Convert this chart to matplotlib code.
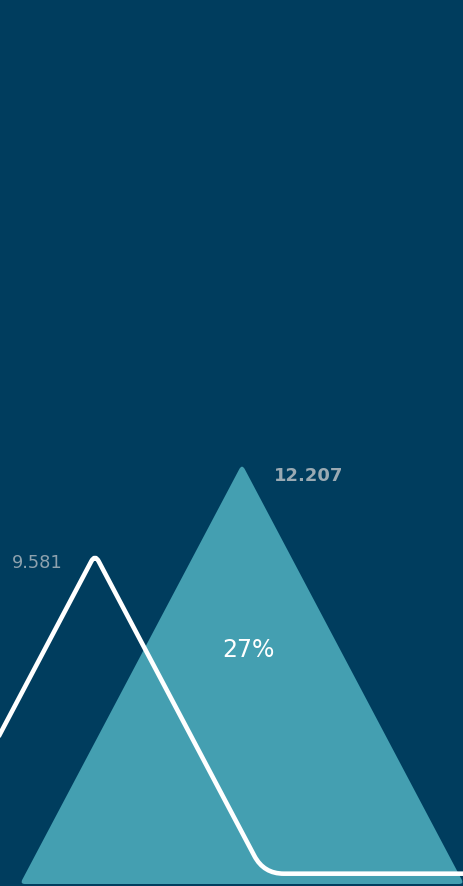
import numpy as np
import matplotlib.pyplot as plt
from matplotlib.path import Path
from matplotlib.patches import PathPatch
from matplotlib.transforms import IdentityTransform

# Data
periods = ['previous', 'current']
positions = [0, 1]
values = [9.581, 12.207]
value_labels = ['9.581', '12.207']
change_label = '27%'

# Style
BG = '#003d5e'
TEAL = '#449fb1'
LABEL_GREY = '#8ea2ae'
SLOPE = 0.1237        # half-width of a triangle (x units) per value unit
LINE_BASE = 0.3       # the outline sits a little above the baseline


def rounded_path(pts, radii, closed=False):
    """Polyline/polygon in display coords with quadratic-rounded corners."""
    pts = np.asarray(pts, float)
    n = len(pts)
    verts, codes = [], []
    for i, p in enumerate(pts):
        r = radii[i]
        endpoint = not closed and (i == 0 or i == n - 1)
        if r == 0 or endpoint:
            verts.append(p)
            codes.append(Path.LINETO if codes else Path.MOVETO)
            continue
        prev, nxt = pts[i - 1], pts[(i + 1) % n]
        a = p + (prev - p) / np.linalg.norm(prev - p) * r
        b = p + (nxt - p) / np.linalg.norm(nxt - p) * r
        verts += [a, p, b]
        codes += [Path.LINETO if codes else Path.MOVETO, Path.CURVE3, Path.CURVE3]
    if closed:
        verts.append(verts[0])
        codes.append(Path.CLOSEPOLY)
    return Path(verts, codes)


fig = plt.figure(figsize=(4.63, 8.86), dpi=100)
fig.patch.set_facecolor(BG)
ax = fig.add_axes([0, 0, 1, 1])
ax.set_xlim(-0.646, 2.503)
ax.set_ylim(-0.058, 25.69)
ax.axis('off')

to_px = ax.transData.transform

# current period: filled teal triangle
x1, v1 = positions[1], values[1]
tri = to_px([(x1 - SLOPE * v1, 0), (x1, v1), (x1 + SLOPE * v1, 0)])
ax.add_patch(PathPatch(rounded_path(tri, [5, 6, 5], closed=True),
                       facecolor=TEAL, edgecolor='none',
                       transform=IdentityTransform()))

# previous period: white outline, running on along the baseline
x0, v0 = positions[0], values[0]
h = v0 - LINE_BASE
outline = to_px([(x0 - SLOPE * h, LINE_BASE), (x0, v0),
                 (x0 + SLOPE * h, LINE_BASE), (ax.get_xlim()[1] + 0.1, LINE_BASE)])
ax.add_patch(PathPatch(rounded_path(outline, [0, 8, 20, 0]),
                       facecolor='none', edgecolor='white', linewidth=3.3,
                       capstyle='round', joinstyle='round',
                       transform=IdentityTransform()))

# value labels
ax.annotate(value_labels[0], xy=(x0, v0), xytext=(-23, -6),
            textcoords='offset points', ha='right', va='center',
            fontsize=12.8, color=LABEL_GREY)
ax.annotate(value_labels[1], xy=(x1, v1), xytext=(23, -9),
            textcoords='offset points', ha='left', va='center',
            fontsize=13, fontweight='bold', color='#9aaab3')

# change label
ax.annotate(change_label, xy=(x1, v1), xytext=(4.3, -134),
            textcoords='offset points', ha='center', va='center',
            fontsize=17, color='white')

fig.savefig('out.png', dpi=100, facecolor=BG)
